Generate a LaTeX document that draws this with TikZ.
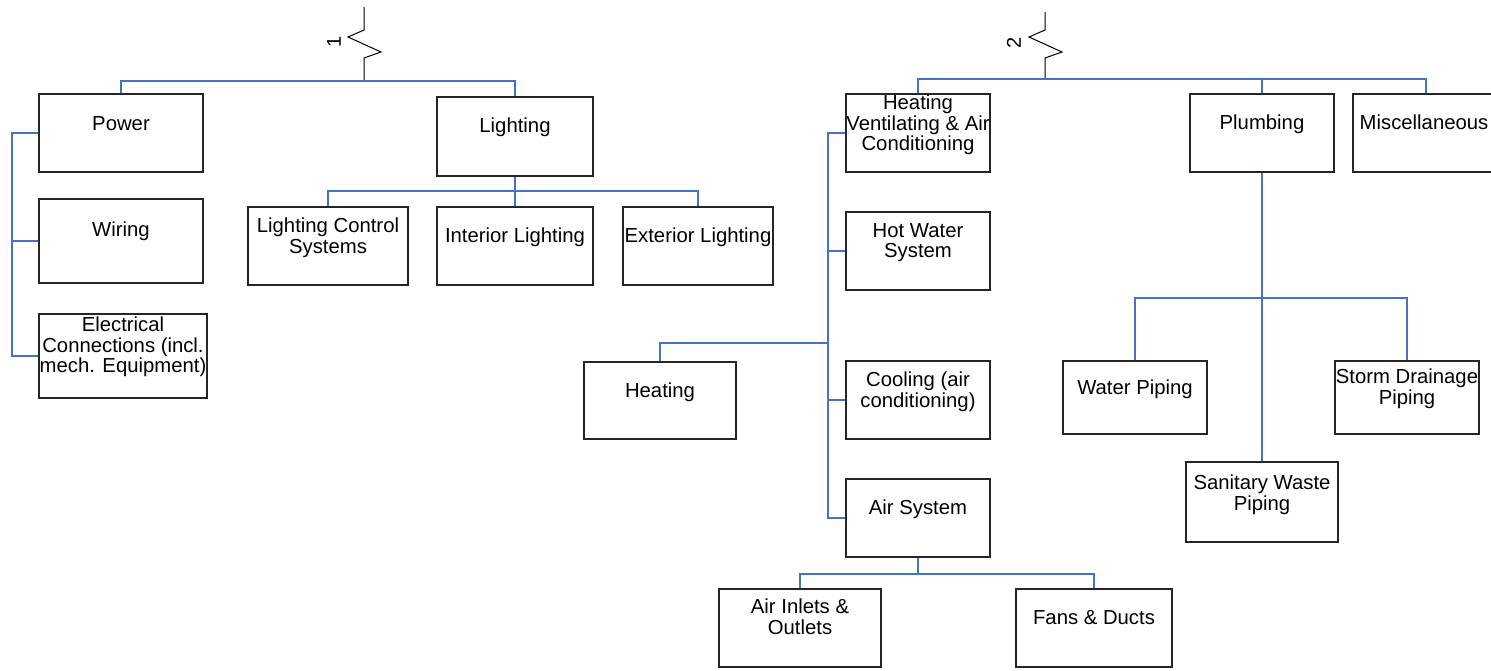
\documentclass[tikz,border=0pt]{standalone}
\usepackage{fontspec}
\setmainfont{Liberation Sans}
\usetikzlibrary{fit,calc}
\definecolor{cblue}{RGB}{68,114,196}
\definecolor{boxline}{RGB}{38,38,38}
\begin{document}
\begin{tikzpicture}[x=1pt,y=-1pt,
  box/.style={draw=boxline, line width=1.3pt, inner sep=0pt, rectangle},
  lbl/.style={anchor=north, inner sep=0pt, align=center, font=\fontsize{20.3}{20.5}\selectfont},
  conn/.style={draw=cblue, line width=1.3pt},
  zig/.style={draw=black, line width=1pt, line join=miter},
  brk/.style={inner sep=0pt, rotate=90, font=\fontsize{20}{20}\selectfont}]
\useasboundingbox (0,0) rectangle (1491,670);
\newcommand\bx[5]{\node[box, fit={(#2,#3) (#4,#5)}] (#1) {};}
% boxes
\bx{pow}{39}{94}{203}{172}
\bx{wir}{39}{199}{203}{283}
\bx{elec}{39}{314}{207}{398}
\bx{lig}{437}{97}{593}{176}
\bx{lcs}{248}{207}{408}{285}
\bx{int}{437}{207}{593}{285}
\bx{ext}{623}{207}{773}{285}
\bx{hvac}{846}{94}{990}{172}
\bx{hw}{846}{212}{990}{290}
\bx{heat}{584}{362}{736}{439}
\bx{cool}{846}{361}{990}{439}
\bx{air}{846}{479}{990}{557}
\bx{ain}{719}{589}{881}{667}
\bx{fan}{1016}{589}{1172}{667}
\bx{plu}{1190}{94}{1334}{172}
\bx{misc}{1353}{94}{1499}{172}
\bx{wat}{1063}{361}{1207}{434}
\bx{san}{1186}{462}{1338}{542}
\bx{sto}{1335}{361}{1479}{434}
% labels
\node[lbl] at (pow.north |- 0,116) {Power};
\node[lbl] at (wir.north |- 0,222) {Wiring};
\node[lbl] at (elec.north |- 0,317) {Electrical\\Connections (incl.\\mech. Equipment)};
\node[lbl] at (lig.north |- 0,118) {Lighting};
\node[lbl] at (lcs.north |- 0,218) {Lighting Control\\Systems};
\node[lbl] at (int.north |- 0,228) {Interior Lighting};
\node[lbl] at (ext.north |- 0,228) {Exterior Lighting};
\node[lbl] at (hvac.north |- 0,95) {Heating\\Ventilating \& Air\\Conditioning};
\node[lbl] at (hw.north |- 0,223) {Hot Water\\System};
\node[lbl] at (heat.north |- 0,383) {Heating};
\node[lbl] at (cool.north |- 0,372) {Cooling (air\\conditioning)};
\node[lbl] at (air.north |- 0,500) {Air System};
\node[lbl] at (ain.north |- 0,599) {Air Inlets \&\\Outlets};
\node[lbl] at (fan.north |- 0,610) {Fans \& Ducts};
\node[lbl] at (plu.north |- 0,115) {Plumbing};
\node[lbl] at (1424,115) {Miscellaneous};
\node[lbl] at (wat.north |- 0,380) {Water Piping};
\node[lbl] at (san.north |- 0,475) {Sanitary Waste\\Piping};
\node[lbl] at (sto.north |- 0,369) {Storm Drainage\\Piping};
% break symbols
\coordinate (z1t) at (364,7);
\coordinate (z1b) at (364,81);
\draw[zig] (z1t) -- ++(0,23) -- ++(-16,7) -- ++(33,15) -- ++(-17,6) -- (z1b);
\node[brk] (n1) at (334,42) {1};
\coordinate (z2t) at (1045,12);
\coordinate (z2b) at (1045,79);
\draw[zig] (z2t) -- ++(0,18) -- ++(-16,7) -- ++(33,15) -- ++(-17,6) -- (z2b);
\node[brk] (n2) at (1014,43) {2};
% connectors group 1
\draw[conn] (pow.north) |- (z1b) -| (lig.north);
\draw[conn] (pow.west) -- (pow.west -| 12,0) |- (elec.west);
\draw[conn] (wir.west) -- (wir.west -| 12,0);
\coordinate (lb) at (515,191);
\draw[conn] (lig.south) -- (lb);
\draw[conn] (lcs.north) |- (lb) -| (ext.north);
\draw[conn] (lb) -- (int.north);
% connectors group 2
\draw[conn] (hvac.north) |- (z2b) -| (misc.north);
\draw[conn] (plu.north) -- (plu.north |- z2b);
\draw[conn] (hvac.west) -- (hvac.west -| 828,0) |- (air.west);
\draw[conn] (hw.west) -- (hw.west -| 828,0);
\draw[conn] (cool.west) -- (cool.west -| 828,0);
\coordinate (hb) at (828,343);
\draw[conn] (heat.north) |- (hb);
\coordinate (ab) at (918,574);
\draw[conn] (air.south) -- (ab);
\draw[conn] (ain.north) |- (ab) -| (fan.north);
\draw[conn] (plu.south) -- (san.north);
\coordinate (pb) at (1262,298);
\draw[conn] (wat.north) |- (pb) -| (sto.north);
\end{tikzpicture}
\end{document}
